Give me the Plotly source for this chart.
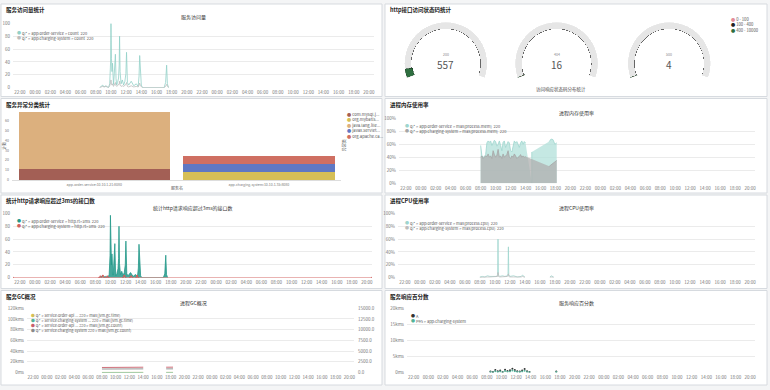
import plotly.graph_objects as go
import pandas as pd

W, H = 770, 390
def X(px): return px / W
def Y(py): return 1 - py / H

D1, D2, D3 = "2023-05-10", "2023-05-11", "2023-05-12"
T_RANGE = [D1 + " 21:05", D3 + " 20:40"]
TICK0 = D1 + " 22:00"
def day2(times):
    return [D2 + " " + t if t else None for t in times]

# ---------------- texts ----------------
panel_titles = ["服务访问量统计", "http接口访问状态码统计", "服务异常分类统计", "进程内存使用率",
                "统计http请求响应超过3ms的接口数", "进程CPU使用率", "服务GC概况", "服务响应百分数"]
chart_titles = ["服务访问量", "进程内存使用率", "统计http请求响应超过3ms的接口数",
                "进程CPU使用率", "进程GC概况", "服务响应百分数"]

# ---------------- panel 1: traffic ----------------
traffic_times = ["08:30","08:45","08:55","09:05","09:20","09:40","09:50","09:57","10:00","10:04",
                 "10:08","10:12","10:16","10:20","10:25","10:30","10:35","10:40","10:45","10:52",
                 "11:00","11:05","11:08","11:12","11:20","11:30","11:40","11:50","11:58","12:03",
                 "12:06","12:10","12:20","12:40","13:00","13:20","13:35","13:42","13:47","13:52",
                 "14:00","14:10","17:00","17:12","17:20","17:26","17:35"]
traffic_a = [0,2,4,1,3,0,6,40,100,45,25,38,12,5,18,30,52,14,4,8,15,35,80,25,6,12,4,10,22,55,
             35,8,4,10,3,6,2,18,50,20,4,0,0,8,35,6,0]
traffic_b = [0,1,2,1,2,0,3,8,12,6,4,6,3,2,4,6,8,3,2,3,4,6,10,4,2,3,2,3,5,8,5,2,1,3,1,2,1,4,7,3,
             1,0,0,2,5,2,0]
traffic_names = ["q:* > app:order-service > count  220", "q:* > app:charging-system > count  220"]
traffic_colors = ["#92D1C8", "#BDBDBD"]

# ---------------- panel 2: gauges ----------------
gauge_labels = ["200", "404", "500"]
gauge_values = [557, 16, 4]
gauge_max = 10000
gauge_subtitle = "访问响应状态码分布统计"
range_labels = ["0 - 100", "100 - 400", "400 - 10000"]
range_limits = [100, 400, 10000]
range_colors = ["#E38C98", "#222222", "#2E6E3F"]

# ---------------- panel 3: exceptions ----------------
exc_categories = ["app-order-service:10.10.1.21:8080", "app-charging-system:10.10.1.35:8080"]
exc_names = ["com.mysql.j...", "org.mybatis...", "java.lang.Ille...", "javax.servlet...", "org.apache.ca..."]
exc_values = [[11, 0], [0, 8], [57, 0], [0, 8], [0, 8]]
exc_colors = ["#A35F55", "#D6BF57", "#DCB07E", "#5F78C4", "#CF6F62"]
exc_ytitle = "计数"
exc_xtitle = "服务名"
exc_legend_title = "异常类"

# ---------------- panel 4: memory ----------------
mem_seg1_times = pd.date_range(D2 + " 08:00", D2 + " 14:00", freq="10min")
mem_a_seg1 = [58,42,40,41,44,62,65,63,65,58,62,66,64,57,60,65,58,50,63,65,55,60,64,62,50,48,60,65,
              62,64,60,55,62,65,60,64,62]
mem_b_seg1 = [40,42,38,40,42,41,45,40,42,38,50,44,40,43,52,40,42,38,45,40,42,44,50,40,38,42,40,45,
              42,38,40,41,44,40,42,40,41]
mem_mid_times = ["14:50", "14:50"]
mem_a_mid = [0, 48]
mem_seg3_times = ["17:10", "17:25", "17:40", "17:55", "18:10"]
mem_a_seg3 = [64, 68, 67, 60, 62]
mem_b_seg3 = [26, 28, 30, 33, 35]
mem_names = ["q:* > app:order-service > max(process.mem)  220", "q:* > app:charging-system > max(process.mem)  220"]
mem_colors = ["#9ED5CE", "#A6A6A6"]

# ---------------- panel 5: slow requests ----------------
slow_times = traffic_times
slow_a = [0,1,3,1,2,0,5,35,97,40,20,37,10,4,15,28,53,12,3,6,14,30,80,22,5,10,3,8,20,57,30,6,3,8,2,
          5,2,15,52,18,3,0,0,6,35,5,0]
slow_b_times = [D1 + " 21:05"] + day2(["08:30","08:40","08:50","09:00","09:10","09:25","09:35","09:45",
                 "11:40","11:50","12:00","12:35","12:45","12:55","13:25","13:32","13:40"]) + [D3 + " 20:40"]
slow_b = [0,0,2,0,3,0,0,2,0,0,3,0,0,2,0,0,3,0,0]
slow_names = ["q:* > app:order-service > http.rt>3ms  220", "q:* > app:charging-system > http.rt>3ms  220"]
slow_colors = ["#24998A", "#D0605E"]

# ---------------- panel 6: cpu ----------------
cpu_times = ["08:00","08:20","08:40","09:00","09:20","09:40","10:00","10:15","10:22","10:25","10:28",
             "10:40","11:00","11:20","11:40","11:45","11:48","11:51","12:00","12:30","13:00","13:30",
             "13:40","14:00",None,"17:20","17:30","17:50"]
cpu_a = [1,2,1,3,2,2,3,2,5,60,4,2,3,2,3,6,48,5,2,3,1,2,4,1,None,1,3,1]
cpu_b = [0.5,1,0.5,1,1,1,2,1,2,8,2,1,1,1,2,3,6,2,1,1,0.5,1,2,0.5,None,0.5,1,0.5]
cpu_names = ["q:* > app:order-service > max(process.cpu)  220", "q:* > app:charging-system > max(process.cpu)  220"]
cpu_colors = ["#9ED5CE", "#BDBDBD"]

# ---------------- panel 7: gc ----------------
gc_seg1_times = pd.date_range(D2 + " 08:00", D2 + " 14:00", freq="20min")
gc_seg3_times = ["17:20", "17:40", "18:00", "18:20"]
gc_time_a = [120,130,135,140,150,155,160,170,175,180,185,190,200,205,210,215,220,225,230] + [230,232,235,238]
gc_time_b = [60,62,65,68,70,72,75,78,80,82,85,88,90,92,95,98,100,102,105] + [105,106,108,110]
gc_count_a = [1180,1185,1190,1195,1200,1200,1205,1210,1210,1215,1220,1220,1225,1225,1230,1230,1235,1235,1240] + [1240,1245,1245,1250]
gc_count_b = [820,822,825,828,830,832,835,836,838,840,842,843,845,846,848,850,851,852,853] + [853,855,856,857]
gc_names = ["q:* > service:order-api ... 220 > max(jvm.gc.time)",
            "q:* > service:charging-system ... 220 > max(jvm.gc.time)",
            "q:* > service:order-api ... 220 > max(jvm.gc.count)",
            "q:* > service:charging-system 220 > max(jvm.gc.count)"]
gc_colors = ["#D6BF57", "#54B399", "#C9606B", "#8A8A8A"]

# ---------------- panel 8: percentiles ----------------
pct_times = ["08:30","08:50","09:10","09:30","09:50","10:10","10:30","10:50","11:10","11:30","11:50",
             "12:10","12:30","12:50","13:10","13:30","13:50","17:30"]
pct_a = [300,150,800,400,600,200,900,500,700,1200,800,400,300,600,1100,400,200,300]
pct_b = [150,80,400,200,300,100,450,250,350,600,400,200,150,300,550,200,100,150]
pct_names = ["A", "P95 > app:charging-system"]
pct_colors = ["#333333", "#54B399"]

# ======================================================================
fig = go.Figure()
FONT = "Noto Sans CJK SC, Noto Sans, sans-serif"
TICKF = dict(size=4.5, color="#777", family=FONT)

# panel 1
for vals, name, col in zip([traffic_a, traffic_b], traffic_names, traffic_colors):
    fig.add_trace(go.Scatter(x=day2(traffic_times), y=vals, name=name, mode="lines",
                             line=dict(color=col, width=0.8), xaxis="x", yaxis="y", showlegend=False))

# panel 2 gauges
polar_ids = ["polar", "polar2", "polar3"]
for i, (v, pid) in enumerate(zip(gauge_values, polar_ids)):
    fig.add_trace(go.Barpolar(r=[0.75], base=[0.25], theta=[110], width=[220], subplot=pid,
                              marker=dict(color="#E6E6E6", line=dict(width=0)), showlegend=False, hoverinfo="skip"))
    fig.add_trace(go.Barpolar(r=[0.05], base=[0.25], theta=[110], width=[220], subplot=pid,
                              marker=dict(color="#666666", line=dict(width=0)), showlegend=False, hoverinfo="skip"))
    col = next(c for lim, c in zip(range_limits, range_colors) if v <= lim)
    ang = v / gauge_max * 220
    fig.add_trace(go.Barpolar(r=[0.85], base=[0.15], theta=[ang / 2], width=[ang], subplot=pid,
                              marker=dict(color=col, line=dict(width=0.6, color="#1b3f25")), showlegend=False))

# panel 3 bars
for vals, name, col in zip(exc_values, exc_names, exc_colors):
    fig.add_trace(go.Bar(x=exc_categories, y=vals, name=name, marker=dict(color=col, line=dict(width=0)),
                         xaxis="x2", yaxis="y2", showlegend=False))

# panel 4 memory
mem_x = list(mem_seg1_times.strftime("%Y-%m-%d %H:%M")) + [None] + day2(mem_mid_times) + [None] + day2(mem_seg3_times)
mem_a = mem_a_seg1 + [None] + mem_a_mid + [None] + mem_a_seg3
mem_xb = list(mem_seg1_times.strftime("%Y-%m-%d %H:%M")) + [None] + day2(mem_seg3_times)
mem_b = mem_b_seg1 + [None] + mem_b_seg3
fig.add_trace(go.Scatter(x=mem_x, y=mem_a, name=mem_names[0], mode="lines", fill="tozeroy",
                         fillcolor="rgba(178,224,218,0.75)", line=dict(color=mem_colors[0], width=0.8),
                         xaxis="x3", yaxis="y3", showlegend=False))
fig.add_trace(go.Scatter(x=mem_xb, y=mem_b, name=mem_names[1], mode="lines", fill="tozeroy",
                         fillcolor="rgba(175,175,175,0.75)", line=dict(color=mem_colors[1], width=0.8),
                         xaxis="x3", yaxis="y3", showlegend=False))

# panel 5 slow
fig.add_trace(go.Scatter(x=day2(slow_times), y=slow_a, name=slow_names[0], mode="lines", fill="tozeroy",
                         fillcolor="rgba(36,153,138,0.85)", line=dict(color=slow_colors[0], width=0.8),
                         xaxis="x4", yaxis="y4", showlegend=False))
fig.add_trace(go.Scatter(x=slow_b_times, y=slow_b, name=slow_names[1], mode="lines+markers",
                         marker=dict(size=2, color=slow_colors[1]), line=dict(color=slow_colors[1], width=0.8),
                         xaxis="x4", yaxis="y4", showlegend=False))

# panel 6 cpu
for vals, name, col in zip([cpu_a, cpu_b], cpu_names, cpu_colors):
    fig.add_trace(go.Scatter(x=day2(cpu_times), y=vals, name=name, mode="lines", connectgaps=False,
                             line=dict(color=col, width=0.8), xaxis="x5", yaxis="y5", showlegend=False))

# panel 7 gc
gc_x = list(gc_seg1_times.strftime("%Y-%m-%d %H:%M")) + [None] + day2(gc_seg3_times)
def gap(v): return v[:19] + [None] + v[19:]
for vals, name, col, ya in zip([gc_time_a, gc_time_b, gc_count_a, gc_count_b], gc_names, gc_colors,
                               ["y6", "y6", "y7", "y7"]):
    fig.add_trace(go.Scatter(x=gc_x, y=gap(vals), name=name, mode="lines", line=dict(color=col, width=0.9),
                             xaxis="x6", yaxis=ya, showlegend=False))

# panel 8 percentiles
for vals, name, col in zip([pct_a, pct_b], pct_names, pct_colors):
    fig.add_trace(go.Scatter(x=day2(pct_times), y=vals, name=name, mode="markers",
                             marker=dict(size=2, color=col), xaxis="x7", yaxis="y8", showlegend=False))

# ---------------- axes ----------------
def tx(a, b, anchor):
    return dict(type="date", domain=[X(a), X(b)], range=T_RANGE, tick0=TICK0, dtick=7200000,
                tickformat="%H:%M", showgrid=False, showline=False, ticks="", tickfont=TICKF,
                anchor=anchor, fixedrange=True, ticklabelstandoff=1)
def vy(top, bot, anchor, rng, dtick, suffix=""):
    return dict(domain=[Y(bot), Y(top)], range=rng, dtick=dtick, ticksuffix=suffix, gridcolor="#EBEBEB",
                gridwidth=0.6, zeroline=False, showline=False, tickfont=TICKF, anchor=anchor,
                fixedrange=True, ticklabelstandoff=2)

layout = dict(
    width=W, height=H, margin=dict(l=0, r=0, t=0, b=0), autosize=False,
    paper_bgcolor="#F4F5F6", plot_bgcolor="white", font=dict(family=FONT, size=5, color="#555"),
    barmode="stack", bargap=0.08, showlegend=False,
    xaxis=tx(13, 375, "y"), yaxis=vy(20.7, 86, "x", [0, 100], 20),
    xaxis2=dict(domain=[X(12), X(342)], anchor="y2", tickfont=dict(size=3.5, color="#777"), showgrid=False,
                ticks="", showline=True, linecolor="#DDD", linewidth=0.5, fixedrange=True, ticklabelstandoff=1),
    yaxis2=dict(domain=[Y(180), Y(110)], anchor="x2", range=[0, 69], dtick=10, showgrid=False, zeroline=False,
                tickfont=dict(size=3.5, color="#777"), fixedrange=True, ticklabelstandoff=2),
    xaxis3=tx(400, 757, "y3"), yaxis3=vy(117, 183, "x3", [0, 100], 20, "%"),
    xaxis4=tx(13, 373, "y4"), yaxis4=vy(213.7, 279, "x4", [0, 100], 20),
    xaxis5=tx(399, 757, "y5"), yaxis5=vy(213.7, 279, "x5", [0, 100], 20, "%"),
    xaxis6=tx(27, 355, "y6"), yaxis6=vy(310, 375.3, "x6", [0, 120000], 20000, "ms"),
    yaxis7=dict(overlaying="y6", side="right", anchor="x6", range=[0, 15000], dtick=2500, tickformat=".1f",
                showgrid=False, zeroline=False, tickfont=TICKF, fixedrange=True, ticklabelstandoff=3),
    xaxis7=tx(408, 757, "y8"), yaxis8=vy(310, 375.3, "x7", [0, 20000], 5000, "ms"),
)

gauge_cx = [447, 558, 671]
gauge_cy, R = 61.5, 42
for pid, cx in zip(polar_ids, gauge_cx):
    layout[pid] = dict(domain=dict(x=[X(cx - R), X(cx + R)], y=[Y(gauge_cy + R * 0.342), Y(gauge_cy - R)]),
                       sector=[-20, 200], hole=0.78, bgcolor="white",
                       radialaxis=dict(visible=False, range=[0, 1]),
                       angularaxis=dict(visible=False, rotation=200, direction="clockwise"))

# panel boxes
panels = [(1, 1, 383, 95), (386, 1, 769, 95), (1, 97, 383, 193), (386, 97, 769, 193),
          (1, 195, 383, 290), (386, 195, 769, 290), (1, 292, 383, 388), (386, 292, 769, 388)]
shapes = [dict(type="rect", xref="paper", yref="paper", x0=X(a), x1=X(c), y0=Y(d), y1=Y(b),
               line=dict(color="#D6DADF", width=1), fillcolor="white", layer="below") for a, b, c, d in panels]
layout["shapes"] = shapes

ann = []
def text(x, y, t, size=5, color="#444", xanchor="left", yanchor="middle", angle=0, align="left"):
    ann.append(dict(x=X(x), y=Y(y), xref="paper", yref="paper", text=t, showarrow=False,
                    font=dict(size=size, color=color, family=FONT), xanchor=xanchor, yanchor=yanchor,
                    textangle=angle, align=align))

for (a, b, c, d), t in zip(panels, panel_titles):
    text(a + 3, b + 6.5, "<b>" + t + "</b>", size=5.5, color="#222")

for (x, y), t in zip([(194, 14.5), (578, 111.5), (194, 208), (578, 208), (194, 305), (578, 305)], chart_titles):
    text(x, y, t, size=5, color="#333", xanchor="center")

def legend(x, y, names, colors, size=4):
    t = "<br>".join(f"<span style='color:{c}'>●</span> {n}" for n, c in zip(names, colors))
    text(x, y, t, size=size, color="#555", yanchor="top")

legend(15, 25, traffic_names, traffic_colors)
legend(404, 120, mem_names, mem_colors)
legend(15, 216, slow_names, slow_colors)
legend(404, 218, cpu_names, cpu_colors)
legend(29, 313, gc_names, gc_colors, size=3.8)
legend(410, 313, pct_names, pct_colors)
legend(346, 108, exc_names, exc_colors, size=4.2)
legend(731, 11.5, range_labels, range_colors, size=4.2)

# gauge texts
for cx, v, lab in zip(gauge_cx, gauge_values, gauge_labels):
    text(cx, gauge_cy + 1, str(v), size=10, color="#555", xanchor="center")
    text(cx, gauge_cy - 9.5, lab, size=3.5, color="#888", xanchor="center")
text(562, 88, gauge_subtitle, size=4.5, color="#444", xanchor="center")

# bar chart axis titles
text(4, 145, exc_ytitle, size=4, color="#555", xanchor="center", angle=-90)
text(177, 187.5, exc_xtitle, size=4, color="#555", xanchor="center")
text(344.5, 145, exc_legend_title, size=4, color="#555", xanchor="center", angle=-90)

layout["annotations"] = ann
fig.update_layout(**layout)
fig.write_html("out.html", config={"displayModeBar": False})

# remove the browser's default page margin so the figure fills the window exactly
with open("out.html", encoding="utf-8") as f:
    html = f.read()
html = html.replace("<head>", "<head><style>html,body{margin:0;padding:0;overflow:hidden;}</style>", 1)
with open("out.html", "w", encoding="utf-8") as f:
    f.write(html)
